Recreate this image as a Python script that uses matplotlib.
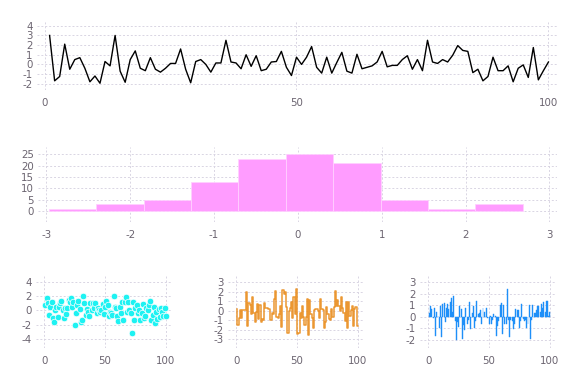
import matplotlib
matplotlib.use("Agg")
import matplotlib.pyplot as plt
import numpy as np

plt.rcParams['font.family'] = ['DejaVu Sans']
plt.rcParams['axes.unicode_minus'] = False

# ---- data ----
line_y = [3.0, -1.7, -1.25, 2.1, -0.5, 0.5, 0.7, -0.4, -1.8, -1.2,
          -1.95, 0.3, -0.15, 3.0, -0.7, -1.85, 0.5, 1.4, -0.4, -0.65,
          0.7, -0.5, -0.8, -0.4, 0.1, 0.1, 1.6, -0.5, -1.9, 0.3,
          0.5, 0.0, -0.8, 0.15, 0.15, 2.5, 0.25, 0.15, -0.45, 1.0,
          -0.2, 0.9, -0.65, -0.5, 0.25, 0.3, 1.35, -0.3, -1.15, 0.75,
          0.0, 0.75, 1.85, -0.3, -0.9, 0.75, -0.9, 0.2, 1.25, -0.7,
          -0.9, 1.05, -0.45, -0.3, -0.15, 0.25, 1.35, -0.25, -0.1, -0.1,
          0.5, 0.9, -0.5, 0.5, -0.65, 2.5, 0.25, 0.1, 0.5, 0.25,
          0.95, 1.95, 1.45, 1.35, -0.85, -0.5, -1.7, -1.25, 0.75, -0.65,
          -0.65, -0.15, -1.8, -0.4, -0.05, -1.35, 1.75, -1.6, -0.65, 0.25]

hist_edges = [-2.97, -2.405, -1.84, -1.275, -0.71, -0.145, 0.42, 0.985, 1.55, 2.115, 2.68]
hist_counts = [1, 3, 5, 13, 23, 25, 21, 5, 1, 3]

scatter_y = [0.7, 1.7, 1.0, -0.6, 0.5, 1.25, -1.0, -1.7, 0.0, 0.5,
             -0.9, 0.55, 1.0, 1.4, 0.1, -1.0, 0.3, -0.5, 0.3, 1.5,
             1.25, 1.7, 0.55, 1.25, -2.0, -0.4, 0.8, 1.35, 0.25, -1.7,
             -1.35, 2.0, 1.1, -0.6, 0.25, -0.15, -0.85, 1.0, 0.1, 1.0,
             0.3, 1.0, -0.4, 0.3, 0.1, -0.25, 0.1, 0.9, -0.5, 0.55,
             1.4, 0.7, -0.85, -0.15, -0.4, -0.6, 2.0, 0.55, 0.3, -0.85,
             -1.55, 0.55, -0.4, 1.25, -1.35, 1.25, 1.9, -0.25, 1.2, 0.0,
             -0.3, -3.2, 1.25, -1.4, 0.3, 0.8, -0.4, 0.1, -1.3, -0.4,
             0.95, -1.0, -0.85, 0.3, 0.1, 0.7, 1.4, -1.35, -0.7, 0.5,
             -1.8, -0.15, -1.2, 0.25, -0.9, 0.3, -0.25, -0.8, 0.3, -0.8]

step_y = [0.2, -1.5, -0.7, 0.1, -0.8, 0.1, 0.1, 0.1, 2.0, -1.6,
          0.8, 0.6, -0.3, 1.5, -0.2, -1.2, -0.1, 0.7, -0.9, 0.6,
          -1.2, -0.9, -1.0, 0.8, 0.3, 0.3, 0.2, 0.2, -1.0, -0.2,
          -0.3, 1.2, 2.1, -0.6, -0.7, -0.3, 0.5, -1.7, 2.2, 1.8,
          2.0, 0.4, -2.3, 0.0, 0.3, 0.9, -0.8, 1.5, -0.3, 2.3,
          -2.4, -2.3, -0.2, -0.7, 0.5, -0.6, -1.5, -0.6, 1.2, -2.5,
          1.1, -0.3, -0.7, -1.8, 0.1, 0.2, 0.2, 0.0, -0.7, 1.2,
          0.2, 0.1, -1.8, -1.2, 0.4, -0.3, -0.9, -1.0, 0.2, -0.6,
          0.4, 2.1, 0.5, 1.1, 0.5, 0.0, 1.5, 0.3, -0.2, -1.1,
          0.9, -1.8, 0.9, -0.5, 0.1, 0.5, -1.6, 0.2, 0.4, -1.6]

bar_y = [0.3, 0.9, 0.7, -0.1, 0.8, -1.7, 0.4, 0.1, -1.0, 0.9,
         -1.8, 1.1, 1.2, -0.5, 0.8, 1.1, 0.7, 1.3, 1.6, 0.4,
         1.8, -0.4, -2.0, -0.5, -0.9, 0.9, 0.7, -1.9, -0.7, -1.2,
         0.8, -0.6, -0.3, 1.3, -1.1, 0.3, 0.9, -1.0, -0.4, 1.4,
         0.2, 0.3, 0.6, -0.6, 0.8, 0.4, 0.0, 0.8, -0.1, -0.6,
         0.1, -0.6, -0.3, 0.2, 0.1, -1.7, -0.8, -0.4, 1.0, 1.2,
         -1.5, 1.0, -0.6, -0.6, 2.4, -0.3, -1.8, -0.3, -0.4, -1.1,
         -0.6, 0.7, 0.6, 0.6, -1.0, -0.4, 1.1, -0.2, -0.4, -0.3,
         -1.0, -0.6, 1.0, -1.9, -0.3, 1.0, 0.3, 0.3, 0.6, 0.9,
         0.9, 0.4, 1.1, 0.8, 1.3, 0.4, 1.4, 1.4, 0.1, 0.4]

W, H = 576, 384
fig = plt.figure(figsize=(W / 100, H / 100), dpi=100)

def box(l, t, r, b):
    return [l / W, 1 - b / H, (r - l) / W, (b - t) / H]

grid_col = '#d9d5e3'
tick_col = '#6b6470'

def style(ax, xt, yt, xl, yl):
    for s in ax.spines.values():
        s.set_visible(False)
    ax.set_xticks(xt)
    ax.set_yticks(yt)
    ax.set_xlim(*xl)
    ax.set_ylim(*yl)
    ax.grid(True, color=grid_col, linestyle=(0, (2, 2)), linewidth=0.7)
    ax.set_axisbelow(True)
    ax.tick_params(length=0, labelsize=7.4, colors=tick_col, pad=3)
    ax.tick_params(axis='x', pad=6)

# top line
ax1 = fig.add_axes(box(37, 20, 557, 90))
x = np.arange(1, len(line_y) + 1)
ax1.plot(x, line_y, color='black', lw=1.0)
style(ax1, [0, 50, 100], [-2, -1, 0, 1, 2, 3, 4], (-1.5, 101.7), (-2.65, 4.6))

# histogram
ax2 = fig.add_axes(box(38, 147, 557, 222))
edges = np.array(hist_edges)
ax2.bar(edges[:-1], hist_counts, width=np.diff(edges), align='edge',
        color='#ff9cff', edgecolor='#ffd0ff', linewidth=0.6)
style(ax2, [-3, -2, -1, 0, 1, 2, 3], [0, 5, 10, 15, 20, 25], (-3.1, 3.09), (-4.7, 28.2))

# scatter
ax3 = fig.add_axes(box(36, 275, 171, 348))
xs = np.arange(1, len(scatter_y) + 1)
ax3.scatter(xs, scatter_y, s=22, color='#1ef2f2', edgecolor='white', linewidth=0.5, zorder=3)
style(ax3, [0, 50, 100], [-4, -2, 0, 2, 4], (-6.8, 104.2), (-5.3, 5.0))

# steppre
ax4 = fig.add_axes(box(228, 275, 363, 348))
xst = np.arange(1, len(step_y) + 1)
ax4.step(xst, step_y, where='pre', color='#e98c1c', lw=1.1, alpha=0.9)
style(ax4, [0, 50, 100], [-3, -2, -1, 0, 1, 2, 3], (-6.8, 104.2), (-3.9, 3.77))

# bars
ax5 = fig.add_axes(box(420, 275, 555, 348))
xb = np.arange(1, len(bar_y) + 1)
ax5.bar(xb, bar_y, width=0.8, color='#1e8ff8', edgecolor='#1e8ff8', linewidth=0.3)
style(ax5, [0, 50, 100], [-2, -1, 0, 1, 2, 3], (-6.8, 104.2), (-2.73, 3.65))

fig.savefig('out.png', dpi=100)
